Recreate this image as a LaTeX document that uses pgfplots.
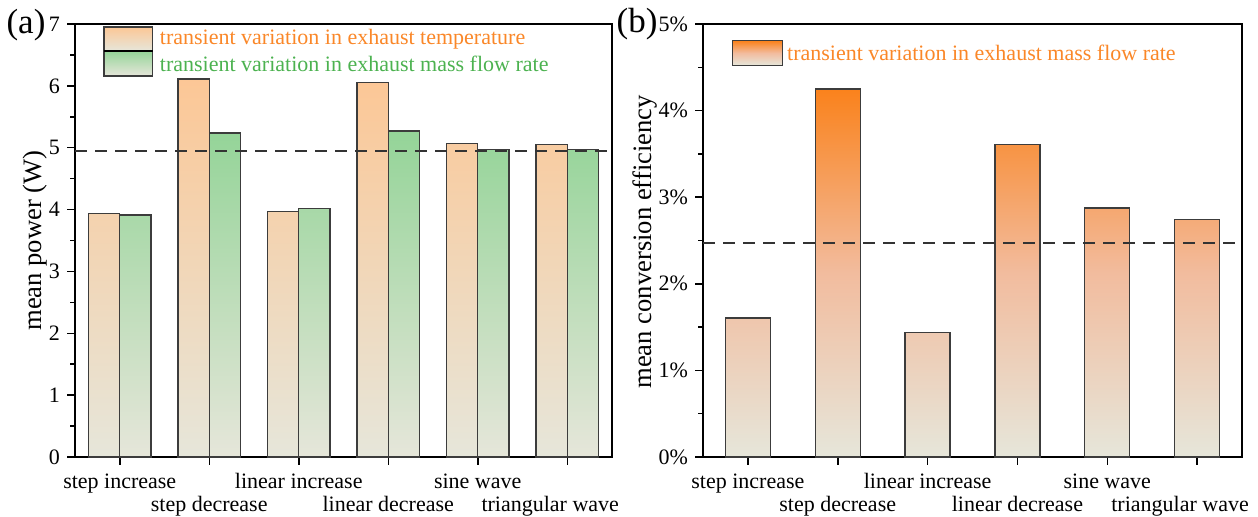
\documentclass[border=0pt]{standalone}
\usepackage{fontspec}
\setmainfont{Liberation Serif}
\usepackage{pgfplots}
\pgfplotsset{compat=1.18}

\definecolor{peach}{RGB}{252,199,150}
\definecolor{beige}{RGB}{230,230,218}
\definecolor{lgreen}{RGB}{148,212,152}
\definecolor{dorange}{RGB}{250,130,28}
\definecolor{morange}{RGB}{242,188,158}
\definecolor{torange}{RGB}{250,135,40}
\definecolor{tgreen}{RGB}{76,178,80}
\definecolor{edge}{RGB}{60,60,60}

\pgfplotsset{
  common/.style={
    scale only axis, height=216.5pt,
    xmin=-0.5, xmax=5.5, xtick={0,...,5},
    xticklabels={\strut step increase,{\strut\\step decrease},\strut linear increase,{\strut\\linear decrease},\strut sine wave,{\strut\\\hspace*{-17pt}triangular wave}},
    tick align=outside, tick pos=left,
    major tick length=4pt, minor tick length=2.5pt,
    every tick/.style={black, line width=0.75pt},
    axis line style={line width=0.9pt},
    ticklabel style={font=\fontsize{11}{11.5}\selectfont},
    xticklabel style={align=center},
    /pgf/number format/assume math mode=true,
    label style={font=\fontsize{13.3}{15}\selectfont},
    minor y tick num=1,
    ymin=0, clip=false,
    anchor=south west,
  },
  barstyle/.style={ybar, draw=edge, line width=0.7pt},
}

\begin{document}
\begin{tikzpicture}
\begin{axis}[common, width=268.5pt, at={(0pt,0pt)},
  ymax=7, ytick={0,...,7},
  ylabel={mean power (W)},
  ylabel style={at={(axis description cs:-0.0745,0.5)}, anchor=center}]
\addplot[barstyle, bar width=0.35, bar shift=-0.175, top color=peach, bottom color=beige] coordinates {(0,3.94) (1,6.11) (2,3.97) (3,6.05) (4,5.07) (5,5.05)};
\addplot[barstyle, bar width=0.35, bar shift=0.175, top color=lgreen, bottom color=beige] coordinates {(0,3.91) (1,5.24) (2,4.02) (3,5.27) (4,4.97) (5,4.97)};
\addplot[dashed, dash pattern=on 6pt off 4pt, line width=0.9pt, color=black!80, forget plot] coordinates {(-0.5,4.95) (5.5,4.95)};
\draw[edge, line width=0.6pt, top color=peach, bottom color=beige] (rel axis cs:0.054,0.938) rectangle (rel axis cs:0.145,0.993);
\draw[edge, line width=0.6pt, top color=lgreen, bottom color=beige] (rel axis cs:0.054,0.880) rectangle (rel axis cs:0.145,0.938);
\draw[black, line width=1pt] (rel axis cs:0.054,0.938) -- (rel axis cs:0.145,0.938);
\node[anchor=west, text=torange, font=\fontsize{11}{13}\selectfont] at (rel axis cs:0.145,0.965) {transient variation in exhaust temperature};
\node[anchor=west, text=tgreen, font=\fontsize{11}{13}\selectfont] at (rel axis cs:0.145,0.908) {transient variation in exhaust mass flow rate};
\node[xshift=-24.5pt, font=\fontsize{17.5}{20}\selectfont] at (rel axis cs:0,0.998) {(a)};
\end{axis}

\begin{axis}[common, width=269.5pt, at={(314pt,0pt)},
  ymax=5, ytick={0,...,5}, yticklabels={0\%,1\%,2\%,3\%,4\%,5\%},
  ylabel={mean conversion efficiency},
  ylabel style={at={(axis description cs:-0.108,0.497)}, anchor=center}]
\addplot[barstyle, bar width=0.5, bar shift=0, top color=dorange, bottom color=beige, middle color=morange] coordinates {(0,1.605) (1,4.25) (2,1.44) (3,3.61) (4,2.875) (5,2.74)};
\addplot[dashed, dash pattern=on 6pt off 4pt, line width=0.9pt, color=black!80, forget plot] coordinates {(-0.5,2.47) (5.5,2.47)};
\draw[edge, line width=0.6pt, top color=dorange, bottom color=beige, middle color=morange] (rel axis cs:0.054,0.905) rectangle (rel axis cs:0.147,0.961);
\node[anchor=west, text=torange, font=\fontsize{11}{13}\selectfont] at (rel axis cs:0.143,0.933) {transient variation in exhaust mass flow rate};
\node[xshift=-33pt, font=\fontsize{17.5}{20}\selectfont] at (rel axis cs:0,1.0) {(b)};
\end{axis}
\pgfresetboundingbox
\useasboundingbox (-37.5pt,-30pt) rectangle (591.5pt,228.5pt);
\end{tikzpicture}
\end{document}
